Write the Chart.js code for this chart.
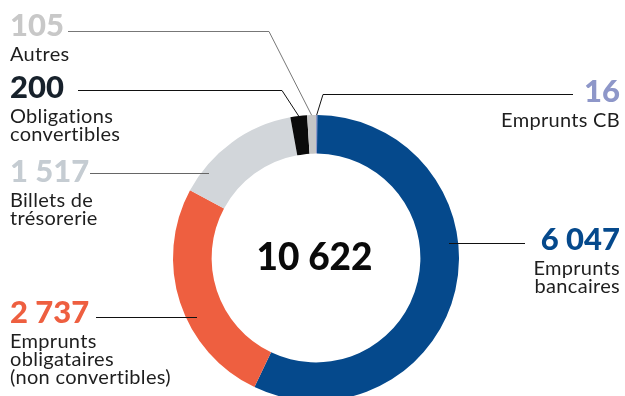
<!DOCTYPE html>
<html>
<head>
<meta charset="utf-8">
<script src="https://cdn.jsdelivr.net/npm/chart.js@4.4.0/dist/chart.umd.min.js"></script>
<style>
  html, body { margin: 0; padding: 0; background: #fff; overflow: hidden; }
  #wrap { width: 625px; height: 396px; position: relative; }
</style>
</head>
<body>
<div id="wrap"><canvas id="myChart" width="625" height="396"></canvas></div>
<script>
// values in millions, clockwise from the top
var categories = ["Emprunts CB", "Emprunts bancaires", "Emprunts obligataires (non convertibles)",
                  "Billets de trésorerie", "Obligations convertibles", "Autres"];
var values = [16, 6047, 2737, 1517, 200, 105];
var totalLabel = "10 622";
var valueLabels = ["16", "6 047", "2 737", "1 517", "200", "105"];
var nameLines = [["Emprunts CB"], ["Emprunts", "bancaires"], ["Emprunts", "obligataires", "(non convertibles)"],
                 ["Billets de", "trésorerie"], ["Obligations", "convertibles"], ["Autres"]];

var sliceColors = ["#8f98c9", "#05498c", "#ee5f40", "#d2d6da", "#0b0b0b", "#c6c6c6"];
var numberColors = ["#8e97c9", "#05498c", "#ee5f40", "#c5ccd2", "#17212b", "#c8c8c8"];

var FONT = "Lato, 'DejaVu Sans', sans-serif";

// label layout: where the number sits and how the leader line runs
// side: 'l' = left aligned at x, 'r' = right aligned at x
// line: [x1, y, x2] horizontal part; toArc: true -> then run to the slice's outer edge
var layout = [
    { x: 620, y: 102, side: "r", line: [573, 94, 323], toArc: true, lineColor: "#111" },
    { x: 620, y: 250, side: "r", line: [525, 243, 449], toArc: false, lineColor: "#111" },
    { x: 10, y: 323, side: "l", line: [96, 317, 197], toArc: false, lineColor: "#111" },
    { x: 10, y: 182, side: "l", line: [90, 173, 209], toArc: false, lineColor: "#666" },
    { x: 10, y: 98, side: "l", line: [78, 90, 282], toArc: true, lineColor: "#111" },
    { x: 10, y: 36, side: "l", line: [68, 31, 269], toArc: true, lineColor: "#777" }
];

var labelPlugin = {
    id: "labels",
    afterDraw: function (chart) {
        var ctx = chart.ctx;
        var arcs = chart.getDatasetMeta(0).data;
        ctx.save();
        for (var i = 0; i < layout.length; i++) {
            var L = layout[i];
            var arc = arcs[i];
            // leader line
            ctx.beginPath();
            ctx.strokeStyle = L.lineColor;
            ctx.lineWidth = 1;
            ctx.moveTo(L.line[0], L.line[1] + 0.5);
            ctx.lineTo(L.line[2], L.line[1] + 0.5);
            if (L.toArc) {
                var mid = (arc.startAngle + arc.endAngle) / 2;
                ctx.lineTo(arc.x + arc.outerRadius * Math.cos(mid), arc.y + arc.outerRadius * Math.sin(mid));
            }
            ctx.stroke();

            // number
            ctx.textAlign = L.side === "r" ? "right" : "left";
            ctx.textBaseline = "alphabetic";
            ctx.letterSpacing = "0px";
            ctx.fillStyle = numberColors[i];
            ctx.font = "900 31px " + FONT;
            ctx.fillText(valueLabels[i], L.x, L.y);

            // name (small letter spacing also stops the "ti" ligature)
            ctx.fillStyle = "#1e1e1e";
            ctx.font = "400 20px " + FONT;
            ctx.letterSpacing = "0.3px";
            var lines = nameLines[i];
            for (var j = 0; j < lines.length; j++) {
                ctx.fillText(lines[j], L.x, L.y + 25 + j * 18);
            }
        }
        // total in the middle
        var a0 = arcs[0];
        ctx.letterSpacing = "0px";
        ctx.textAlign = "center";
        ctx.fillStyle = "#0a0a0a";
        ctx.font = "900 37px " + FONT;
        ctx.fillText(totalLabel, a0.x - 1.5, a0.y + 12);
        ctx.restore();
    }
};

var chart = new Chart(document.getElementById("myChart").getContext("2d"), {
    type: "doughnut",
    data: {
        labels: categories,
        datasets: [{
            data: values,
            backgroundColor: sliceColors,
            borderWidth: 0,
            radius: 143,
            clip: false
        }]
    },
    options: {
        responsive: false,
        animation: false,
        cutout: "73%",
        layout: { padding: { top: 120, left: 7 } },
        plugins: {
            legend: { display: false },
            tooltip: { enabled: false }
        }
    },
    plugins: [labelPlugin]
});
</script>
</body>
</html>
